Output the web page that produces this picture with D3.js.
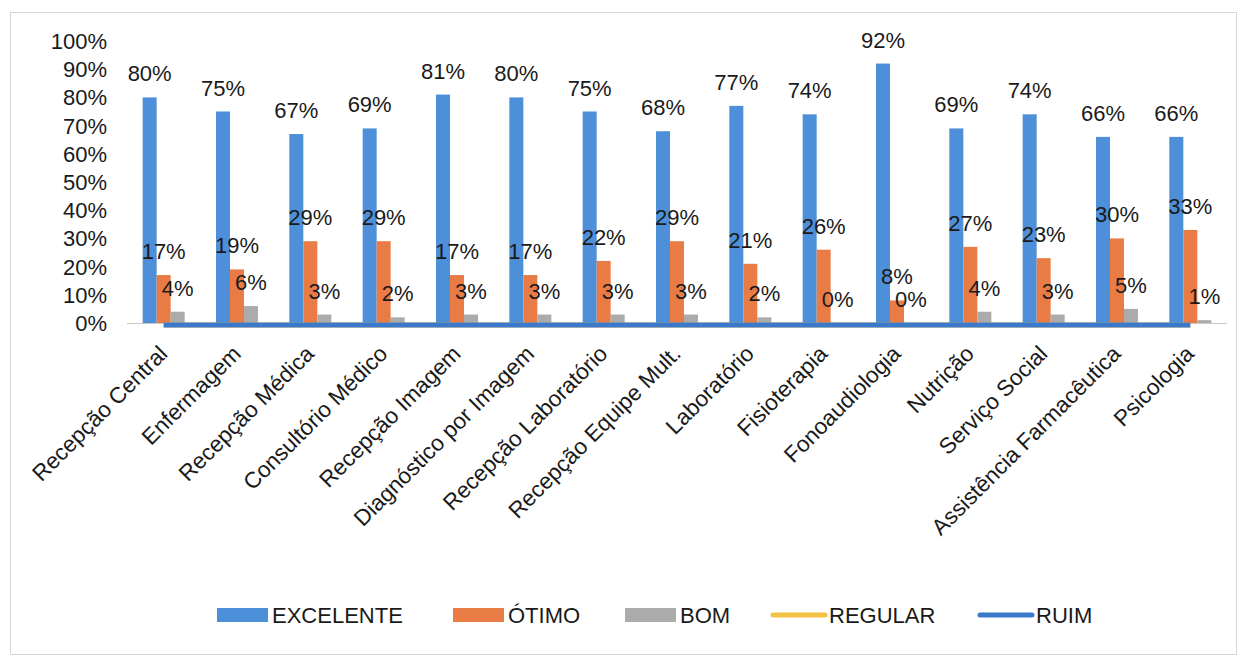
<!DOCTYPE html>
<html>
<head>
<meta charset="utf-8">
<script src="https://cdn.jsdelivr.net/npm/d3@7"></script>
<style>
  body { margin:0; background:#fff; }
  text { font-family: "Liberation Sans", Arial, sans-serif; fill:#1a1a1a; }
</style>
</head>
<body>
<svg id="chart" width="1243" height="664"></svg>
<script>
// categories and series
var categorias = ["Recepção Central", "Enfermagem", "Recepção Médica", "Consultório Médico",
  "Recepção Imagem", "Diagnóstico por Imagem", "Recepção Laboratório", "Recepção Equipe Mult.",
  "Laboratório", "Fisioterapia", "Fonoaudiologia", "Nutrição", "Serviço Social",
  "Assistência Farmacêutica", "Psicologia"];
var excelente = [80, 75, 67, 69, 81, 80, 75, 68, 77, 74, 92, 69, 74, 66, 66];
var otimo     = [17, 19, 29, 29, 17, 17, 22, 29, 21, 26, 8, 27, 23, 30, 33];
var bom       = [4, 6, 3, 2, 3, 3, 3, 3, 2, 0, 0, 4, 3, 5, 1];
var regular   = [0, 0, 0, 0, 0, 0, 0, 0, 0, 0, 0, 0, 0, 0, 0];
var ruim      = [0, 0, 0, 0, 0, 0, 0, 0, 0, 0, 0, 0, 0, 0, 0];
var yTicks    = [0, 10, 20, 30, 40, 50, 60, 70, 80, 90, 100];

var barSeries = [
  {name:"EXCELENTE", values:excelente, color:"#4d8fd9"},
  {name:"ÓTIMO", values:otimo, color:"#e97b45"},
  {name:"BOM", values:bom, color:"#ababab"}
];
var lineSeries = [
  {name:"REGULAR", values:regular, color:"#f3c243"},
  {name:"RUIM", values:ruim, color:"#3b79cc"}
];

var svg = d3.select("#chart");
var plot = {left:127, right:1227, top:41, bottom:323};

// outer chart border
svg.append("rect")
  .attr("x", 10.5).attr("y", 12.5).attr("width", 1226).attr("height", 642)
  .attr("fill", "none").attr("stroke", "#d6d6d6");

var x = d3.scaleBand()
  .domain(categorias)
  .range([plot.left, plot.right])
  .paddingInner(0.427)
  .paddingOuter(0.2135);
var xs = d3.scaleBand()
  .domain(barSeries.map(function(s){ return s.name; }))
  .range([0, x.bandwidth()]);
var y = d3.scaleLinear().domain([0, 100]).range([plot.bottom, plot.top]);

// y axis labels
svg.append("g").selectAll("text")
  .data(yTicks).enter().append("text")
    .attr("x", 107)
    .attr("y", function(d){ return y(d); })
    .attr("dy", "0.36em")
    .attr("text-anchor", "end")
    .style("font-size", "22px")
    .text(function(d){ return d + "%"; });

// baseline
svg.append("line")
  .attr("x1", plot.left).attr("x2", plot.right)
  .attr("y1", plot.bottom + 0.5).attr("y2", plot.bottom + 0.5)
  .attr("stroke", "#c8c8c8");

// bars
barSeries.forEach(function(s) {
  var g = svg.append("g");
  g.selectAll("rect")
    .data(s.values).enter().append("rect")
      .attr("x", function(d, i){ return x(categorias[i]) + xs(s.name); })
      .attr("width", xs.bandwidth())
      .attr("y", function(d){ return y(d); })
      .attr("height", function(d){ return plot.bottom - y(d); })
      .attr("fill", s.color);
});

// lines
var line = d3.line()
  .x(function(d, i){ return x(categorias[i]) + x.bandwidth() / 2; })
  .y(function(d){ return y(d) + 2; });
lineSeries.forEach(function(s) {
  svg.append("path")
    .datum(s.values)
    .attr("d", line)
    .attr("fill", "none")
    .attr("stroke", s.color)
    .attr("stroke-width", 5);
});

// data labels
barSeries.forEach(function(s) {
  svg.append("g").selectAll("text")
    .data(s.values).enter().append("text")
      .attr("x", function(d, i){ return x(categorias[i]) + xs(s.name) + xs.bandwidth() / 2; })
      .attr("y", function(d){ return y(d) - 16; })
      .attr("text-anchor", "middle")
      .style("font-size", "22px")
      .text(function(d){ return d + "%"; });
});

// category labels, rotated
svg.append("g").selectAll("text")
  .data(categorias).enter().append("text")
    .attr("transform", function(d){
      return "translate(" + (x(d) + x.bandwidth() / 2 - 6) + "," + 344 + ") rotate(-45)";
    })
    .attr("dy", "0.7em")
    .attr("text-anchor", "end")
    .style("font-size", "22.5px")
    .text(function(d){ return d; });

// legend
var legend = [
  {name:"EXCELENTE", color:barSeries[0].color, x:217, type:"bar"},
  {name:"ÓTIMO", color:barSeries[1].color, x:453, type:"bar"},
  {name:"BOM", color:barSeries[2].color, x:625, type:"bar"},
  {name:"REGULAR", color:lineSeries[0].color, x:773, type:"line"},
  {name:"RUIM", color:lineSeries[1].color, x:980, type:"line"}
];
var ly = 615;
var lg = svg.append("g").selectAll("g").data(legend).enter().append("g");
lg.filter(function(d){ return d.type == "bar"; }).append("rect")
  .attr("x", function(d){ return d.x; }).attr("y", ly - 7)
  .attr("width", 51).attr("height", 14)
  .attr("fill", function(d){ return d.color; });
lg.filter(function(d){ return d.type == "line"; }).append("line")
  .attr("x1", function(d){ return d.x; }).attr("x2", function(d){ return d.x + 52; })
  .attr("y1", ly).attr("y2", ly)
  .attr("stroke", function(d){ return d.color; })
  .attr("stroke-width", 5)
  .attr("stroke-linecap", "round");
lg.append("text")
  .attr("x", function(d){ return d.x + (d.type == "bar" ? 55 : 56); })
  .attr("y", ly).attr("dy", "0.36em")
  .style("font-size", "22px")
  .text(function(d){ return d.name; });
</script>
</body>
</html>
